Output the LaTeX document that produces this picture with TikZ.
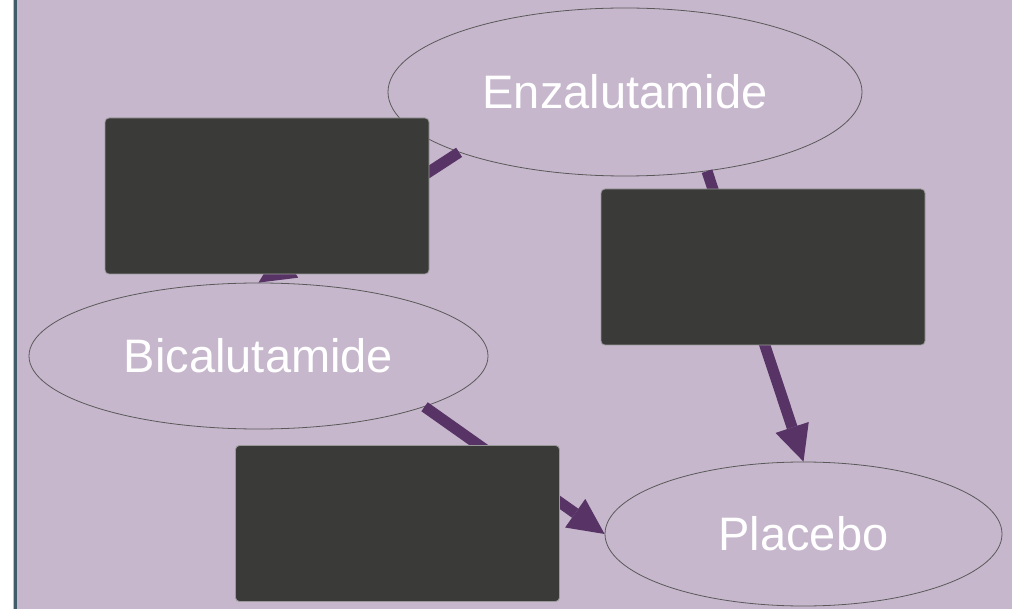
\documentclass[tikz,border=0pt]{standalone}
\usepackage{fontspec}
\setmainfont{Liberation Sans}
\usetikzlibrary{shapes.geometric,arrows.meta}
\definecolor{bg}{HTML}{C6B7CC}
\definecolor{arrowc}{HTML}{573366}
\definecolor{boxc}{HTML}{3A3A38}
\definecolor{edgec}{HTML}{405C68}
\begin{document}
\begin{tikzpicture}[x=1pt,y=-1pt,
  oval/.style={ellipse, draw=black!65, line width=0.8pt, text=white, font=\fontsize{47}{56}\selectfont, inner sep=0pt},
  darkbox/.style={rectangle, draw=black!40, line width=0.8pt, fill=boxc, rounded corners=4pt, inner sep=0pt, minimum width=324pt, minimum height=156pt},
  link/.style={draw=arrowc, line width=11pt, -{Triangle[length=36pt,width=35pt,line width=0pt]}}]
\useasboundingbox (0,0) rectangle (1012,609);
\fill[bg] (0,0) rectangle (1012,609);
\fill[white] (0,0) rectangle (13,609);
\fill[black!25] (13,0) rectangle (14,609);
\fill[edgec] (14,0) rectangle (16.5,609);
\node[oval, minimum width=474pt, minimum height=168pt] (enz) at (625,92) {Enzalutamide};
\node[oval, minimum width=459pt, minimum height=146pt] (bic) at (258.5,356) {Bicalutamide};
\node[oval, minimum width=397pt, minimum height=144pt] (pla) at (803.5,534) {Placebo};
\draw[link] (enz.-160.6) -- (bic.north);
\draw[link] (enz.-44.3) -- (pla.north);
\draw[link] (bic.-17.8) -- (pla.west);
\node[darkbox] (r1) at (267,196) {};
\node[darkbox] (r2) at (763,267) {};
\node[darkbox] (r3) at (397.5,523.5) {};
\end{tikzpicture}
\end{document}
